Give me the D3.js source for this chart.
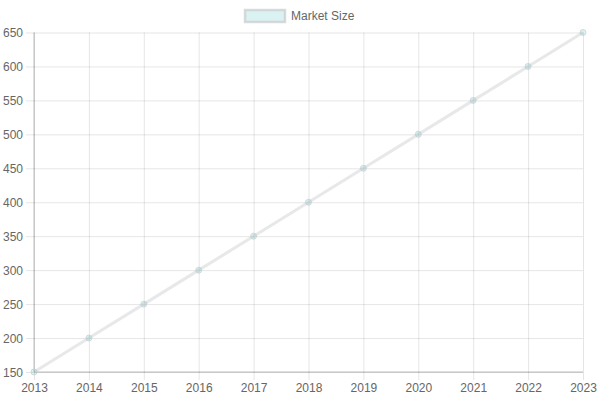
<!DOCTYPE html>
<html>
<head>
<meta charset="utf-8">
<script src="https://cdn.jsdelivr.net/npm/d3@7"></script>
<style>
  body { margin: 0; background: #fff; }
  svg text { font-family: "Liberation Sans", Arial, Helvetica, sans-serif; font-size: 12px; fill: #666; }
</style>
</head>
<body>
<div id="chart"></div>
<script>
var width = 600;
var height = 400;

// data
var years = [2013, 2014, 2015, 2016, 2017, 2018, 2019, 2020, 2021, 2022, 2023];
var marketSize = [150, 200, 250, 300, 350, 400, 450, 500, 550, 600, 650];
var yTicks = [150, 200, 250, 300, 350, 400, 450, 500, 550, 600, 650];
var seriesName = "Market Size";

var margin = {top: 32.5, right: 17, bottom: 28, left: 34};

var svg = d3.select("#chart").append("svg")
  .attr("width", width)
  .attr("height", height);

var x = d3.scalePoint()
  .domain(years)
  .range([margin.left, width - margin.right]);

var y = d3.scaleLinear()
  .domain([150, 650])
  .range([height - margin.bottom, margin.top]);

var grid = "rgba(0,0,0,0.1)";

// horizontal grid + y ticks
var yAxis = svg.append("g")
  .attr("transform", "translate(" + margin.left + ",0)")
  .call(d3.axisLeft(y).tickValues(yTicks).tickSize(8).tickPadding(3)
    .tickSizeOuter(0));
yAxis.select(".domain").remove();
yAxis.selectAll("line").attr("stroke", grid);
yAxis.selectAll("g.tick").append("line")
  .attr("x1", 0).attr("x2", width - margin.right - margin.left)
  .attr("stroke", grid);
yAxis.selectAll("text").attr("fill", "#666").style("font-size", "12px")
  .attr("dy", "0.35em");

// vertical grid + x ticks
var xAxis = svg.append("g")
  .attr("transform", "translate(0," + (height - margin.bottom) + ")")
  .call(d3.axisBottom(x).tickSize(8).tickPadding(3).tickSizeOuter(0));
xAxis.select(".domain").remove();
xAxis.selectAll("line").attr("stroke", grid);
xAxis.selectAll("g.tick").append("line")
  .attr("y1", 0).attr("y2", -(height - margin.bottom - margin.top))
  .attr("stroke", grid);
xAxis.selectAll("text").attr("fill", "#666").style("font-size", "12px");

// axis lines (slightly darker)
svg.append("line")
  .attr("x1", margin.left).attr("x2", margin.left)
  .attr("y1", margin.top).attr("y2", height - margin.bottom)
  .attr("stroke", "rgba(0,0,0,0.25)");
svg.append("line")
  .attr("x1", margin.left).attr("x2", width - margin.right)
  .attr("y1", height - margin.bottom).attr("y2", height - margin.bottom)
  .attr("stroke", "rgba(0,0,0,0.25)");

// line
var line = d3.line()
  .x(function(d, i) { return x(years[i]); })
  .y(function(d) { return y(d); });

svg.append("path")
  .datum(marketSize)
  .attr("d", line)
  .attr("fill", "none")
  .attr("stroke", "rgba(201,203,207,0.45)")
  .attr("stroke-width", 3);

// points
svg.selectAll("circle.pt")
  .data(marketSize)
  .enter().append("circle")
  .attr("class", "pt")
  .attr("cx", function(d, i) { return x(years[i]); })
  .attr("cy", function(d) { return y(d); })
  .attr("r", 3)
  .attr("fill", "rgba(75,192,192,0.2)")
  .attr("stroke", "rgba(201,203,207,0.7)")
  .attr("stroke-width", 1);

// legend
var legend = svg.append("g");
legend.append("rect")
  .attr("x", 245).attr("y", 10)
  .attr("width", 40).attr("height", 12)
  .attr("fill", "rgba(75,192,192,0.2)")
  .attr("stroke", "rgba(201,203,207,0.7)")
  .attr("stroke-width", 2.5);
legend.append("text")
  .attr("x", 291).attr("y", 16)
  .attr("dy", "0.35em")
  .text(seriesName);
</script>
</body>
</html>
